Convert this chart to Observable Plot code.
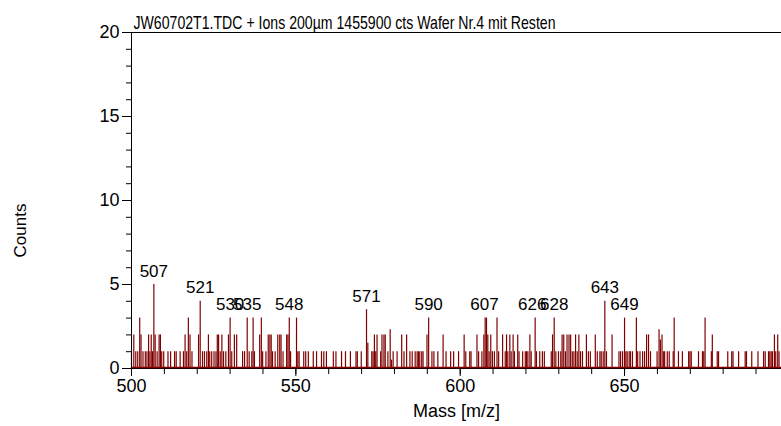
<!DOCTYPE html>
<html>
<head>
<meta charset="utf-8">
<script src="https://cdn.jsdelivr.net/npm/d3@7"></script>
<script src="https://cdn.jsdelivr.net/npm/@observablehq/plot@0.6"></script>
<style>
  html, body { margin: 0; padding: 0; background: #fff; }
  #chart svg { display: block; }
</style>
</head>
<body>
<div id="chart"></div>
<script>
// ---- data ----
const titleText = "JW60702T1.TDC + Ions 200µm 1455900 cts Wafer Nr.4 mit Resten";
const xLabel = "Mass [m/z]";
const yLabel = "Counts";

const xMajorTicks = [500, 550, 600, 650];
const xMinorTicks = [500, 510, 520, 530, 540, 550, 560, 570, 580, 590, 600, 610, 620, 630, 640, 650, 660, 670, 680, 690];
const yMajorTicks = [0, 5, 10, 15, 20];
const yMinorTicks = [0, 1, 2, 3, 4, 5, 6, 7, 8, 9, 10, 11, 12, 13, 14, 15, 16, 17, 18, 19, 20];

// peak positions (m/z) and counts
const peakMass = [
  500.0, 500.7, 501.3, 501.9, 502.5, 502.9, 503.5, 504.2, 504.7, 505.2, 505.6, 506.0, 506.4, 506.8, 507.2, 507.8,
  508.4, 508.8, 509.2, 509.8, 511.1, 511.9, 513.1, 513.6, 514.8, 515.8, 516.3, 516.8, 517.3, 517.8, 518.4,
  520.4, 520.9, 521.6, 522.2, 522.9, 523.4, 523.8, 524.4, 525.1, 525.7, 526.1, 526.5, 527.0, 527.5, 528.0,
  528.7, 529.5, 530.0, 530.5, 531.3, 532.0,
  533.8, 534.4, 535.2, 535.8, 536.6, 537.0, 537.4, 539.0, 539.5, 539.9, 540.9, 541.6, 542.1, 542.5, 542.9,
  543.7, 544.5, 545.1, 545.5, 546.1, 547.2, 547.6, 548.0, 548.4, 550.2, 550.6, 551.0, 552.4, 553.0, 553.8,
  555.3, 556.3, 557.8, 558.5, 559.3, 561.4, 562.2, 563.9, 565.1,
  566.6, 568.3, 568.7, 569.9, 571.5, 571.9, 573.1, 573.5, 573.9, 574.3, 574.7, 575.8, 576.2, 576.8, 577.2,
  578.0, 578.7, 579.1, 579.6, 580.8, 582.2, 582.9, 583.7, 584.7, 585.4, 586.3, 586.9, 587.3, 587.7, 588.3,
  588.7, 589.9, 590.4, 591.4, 592.0, 593.2, 594.8, 595.7, 597.1, 598.0,
  599.5, 601.2, 601.7, 602.9, 603.3, 605.1, 605.6, 606.6, 607.2, 607.6, 608.0, 608.4, 608.8, 609.3, 609.8,
  610.4, 611.2, 611.7, 612.9, 613.7, 614.1, 614.5, 615.1, 615.5, 616.1, 616.5, 617.5, 617.9, 619.0, 619.8,
  620.2, 620.6, 621.2, 621.6, 622.8, 623.2, 624.2, 625.0, 625.6, 627.7, 628.1, 628.6, 629.1, 629.9, 630.6,
  631.0, 631.5, 632.0, 632.5, 633.1, 633.6, 634.1, 634.6, 635.1, 635.6, 636.1, 636.6, 637.2, 638.4, 639.0,
  639.6, 641.1, 641.7, 642.5, 642.9, 643.5, 644.0, 644.5, 646.2, 648.3, 648.8, 649.4, 650.0, 650.4, 650.8,
  651.4, 651.8, 652.4, 653.6, 654.0, 654.7, 655.5, 656.1, 656.7, 657.3, 657.9, 659.9, 660.5, 660.9, 661.4,
  661.8, 662.2, 663.0, 663.6,
  664.8, 665.1, 666.4, 667.6, 669.5, 669.9, 670.3, 672.5, 673.7, 674.1, 674.5, 676.4, 676.7, 678.2, 678.6,
  681.4, 682.6, 683.0, 684.7, 686.7, 687.1, 688.7, 690.6, 692.3, 692.8, 693.8, 694.2, 694.6, 695.0, 695.6,
  696.0, 696.6, 697.0
];
const peakCount = [
  1, 2, 1, 1, 3, 2, 1, 1, 1, 2, 1, 2, 1, 5, 2, 1,
  2, 2, 1, 1, 1, 1, 1, 1, 1, 1, 2, 1, 3, 2, 1,
  2, 4, 1, 1, 1, 2, 1, 1, 1, 1, 2, 2, 1, 2, 1,
  1, 2, 3, 1, 2, 2,
  1, 1, 3, 1, 1, 3, 1, 2, 3, 1, 1, 2, 2, 2, 1,
  1, 2, 2, 2, 1, 2, 2, 3, 1, 3, 1, 1, 1, 1, 1,
  1, 1, 1, 1, 1, 1, 1, 1, 1,
  1, 1, 1, 1, 3.5, 1.5, 1, 1, 2, 1, 2, 1, 2, 2, 2,
  1, 2.3, 0.5, 1, 1, 2, 1, 2, 1, 1, 1, 1, 1, 1, 1,
  1, 2, 3, 1, 1, 1, 2, 1, 1, 1,
  1, 2, 1, 1, 1, 2, 1, 1, 2, 3, 3, 2, 1, 2, 1,
  1, 3, 1, 2, 1, 2, 1, 2, 1, 2, 1, 2, 1, 1, 1,
  1, 1, 2, 1, 3, 1, 1, 1, 1, 1, 2, 3, 1, 1, 1,
  2, 2, 1, 2, 2, 2, 1, 1, 2, 1, 2, 1, 1, 2, 1,
  1, 2, 1, 1, 1, 1, 4, 1, 2, 1, 1, 1, 3, 1, 1,
  1, 1, 1, 3, 1, 1, 1, 1, 2, 2, 1, 1, 2.3, 1.7, 2,
  1, 1, 1, 1,
  1, 3, 1, 1, 1, 1, 1, 1, 1, 1, 3, 1, 2, 1, 1,
  1, 1, 1, 1, 1, 1, 1, 1, 1, 1, 1, 1, 1, 1, 2,
  1, 2, 1
];

// peak annotations: label text, position (m/z), count at which it sits
const labelText  = ["507", "521", "530", "535", "548", "571", "590", "607", "626", "628", "643", "649"];
const labelMass  = [506.8, 520.9, 530.0, 535.2, 548.0, 571.5, 590.4, 607.4, 621.9, 628.6, 644.0, 650.0];
const labelCount = [5, 4, 3, 3, 3, 3.5, 3, 3, 3, 3, 4, 3];

// ---- build tables ----
const peaks = peakMass.map((m, i) => ({mass: m, count: peakCount[i]}));
const labels = labelText.map((t, i) => ({text: t, mass: labelMass[i], count: labelCount[i]}));

const dark = "#800000";
const font = "'Liberation Sans', Arial, sans-serif";

const chart = Plot.plot({
  width: 781,
  height: 426,
  marginLeft: 131,
  marginRight: 0,
  marginTop: 32,
  marginBottom: 58,
  style: {fontFamily: font, color: "#000", background: "#fff", overflow: "visible"},
  x: {domain: [500, 697.75]},
  y: {domain: [0, 20]},
  marks: [
    // minor + major ticks
    Plot.axisX(xMinorTicks, {tickSize: 6, tickFormat: () => "", label: null, stroke: "#000"}),
    Plot.axisX(xMajorTicks, {tickSize: 8, tickPadding: 3, fontSize: 18, label: null, stroke: "#000"}),
    Plot.axisY(yMinorTicks, {tickSize: 5, tickFormat: () => "", label: null, stroke: "#000"}),
    Plot.axisY(yMajorTicks, {tickSize: 9, tickPadding: 3, fontSize: 18, label: null, stroke: "#000"}),
    // spectrum
    Plot.ruleX(peaks, {x: "mass", y1: 0, y2: "count", stroke: dark, strokeWidth: 1.2}),
    // frame
    Plot.ruleY([0], {stroke: "#000", strokeWidth: 1}),
    Plot.ruleY([0], {stroke: dark, strokeWidth: 1.3, dy: -1}),
    Plot.ruleY([20], {stroke: "#000", strokeWidth: 1}),
    Plot.ruleX([500], {stroke: "#000", strokeWidth: 1}),
    // peak labels
    Plot.text(labels, {x: "mass", y: "count", text: "text", lineAnchor: "bottom", dy: -8, fontSize: 17, fill: "#000"}),
    // title and axis labels
    Plot.text([titleText], {frameAnchor: "top-left", textAnchor: "start", lineAnchor: "bottom", dx: 2, dy: -4, fontSize: 19, fill: "#000", className: "ttl"}),
    Plot.text([xLabel], {frameAnchor: "bottom", lineAnchor: "middle", dy: 43, fontSize: 18, fill: "#000"}),
    Plot.text([yLabel], {frameAnchor: "left", textAnchor: "middle", lineAnchor: "middle", dx: -111, dy: 30, rotate: -90, fontSize: 17, fill: "#000"})
  ]
});
document.getElementById("chart").appendChild(chart);
// condensed title as in the reference
const t = chart.querySelector(".ttl text");
if (t) { t.setAttribute("textLength", 422); t.setAttribute("lengthAdjust", "spacingAndGlyphs"); }
</script>
</body>
</html>
